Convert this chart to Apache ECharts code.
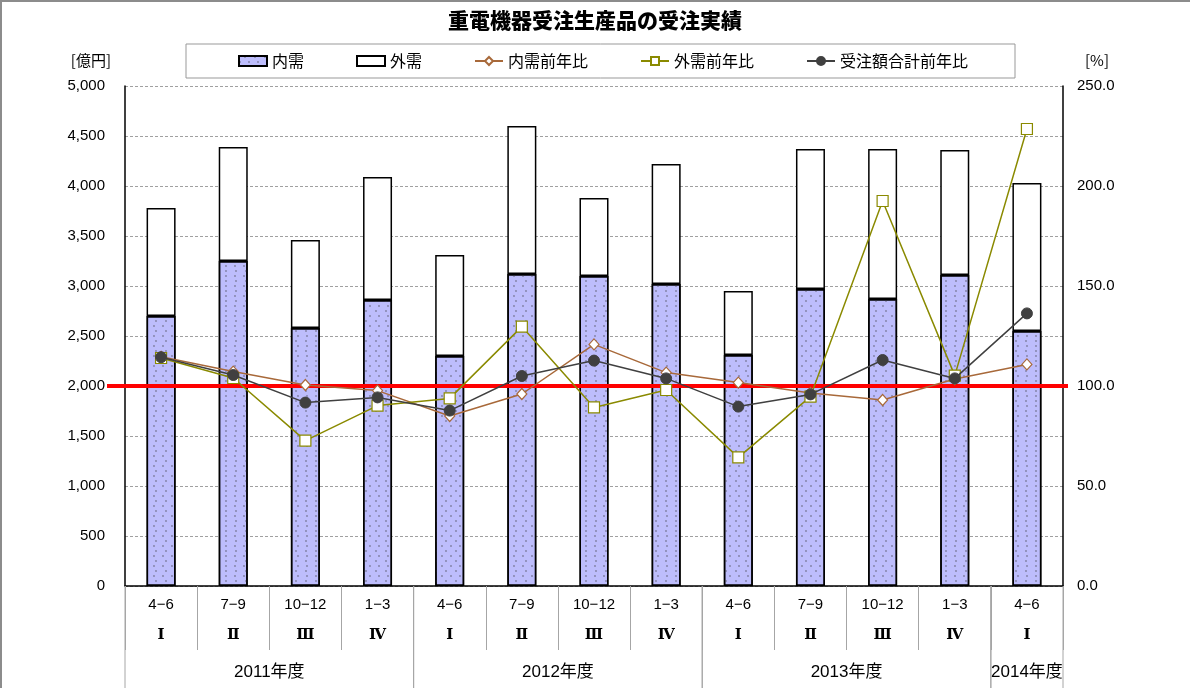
<!DOCTYPE html>
<html>
<head>
<meta charset="utf-8">
<title>重電機器受注生産品の受注実績</title>
<script src="https://cdn.jsdelivr.net/npm/echarts@6/dist/echarts.min.js"></script>
<style>
  html, body { margin: 0; padding: 0; background: #fff; }
  #chart { width: 1190px; height: 688px; }
</style>
</head>
<body>
<div id="chart"></div>
<script>
// Quarter labels, fiscal-quarter numerals and fiscal-year groups
const quarters = ['4−6', '7−9', '10−12', '1−3', '4−6', '7−9', '10−12', '1−3', '4−6', '7−9', '10−12', '1−3', '4−6'];
const romans = ['Ⅰ', 'Ⅱ', 'Ⅲ', 'Ⅳ', 'Ⅰ', 'Ⅱ', 'Ⅲ', 'Ⅳ', 'Ⅰ', 'Ⅱ', 'Ⅲ', 'Ⅳ', 'Ⅰ'];
const fiscalYears = ['2011年度', '2012年度', '2013年度', '2014年度'];
const fiscalYearStart = [0, 4, 8, 12];
const fiscalYearLength = [4, 4, 4, 1];

// Orders received [億円]
const domestic = [2700, 3250, 2580, 2860, 2300, 3120, 3100, 3020, 2310, 2970, 2870, 3110, 2550];
const overseas = [1080, 1140, 880, 1230, 1010, 1480, 780, 1200, 640, 1400, 1500, 1250, 1480];

// Year-on-year ratios [%]
const domesticYoY = [114.6, 107.2, 100.5, 97.7, 85.0, 96.0, 120.8, 106.7, 101.7, 96.5, 93.0, 103.5, 110.8];
const overseasYoY = [114.0, 104.0, 72.7, 90.2, 93.8, 129.7, 89.3, 98.0, 64.3, 94.7, 192.5, 105.2, 228.5];
const totalYoY = [114.4, 105.5, 91.7, 94.3, 87.7, 105.0, 112.7, 103.8, 89.7, 95.8, 113.0, 103.8, 136.3];

// Reference level for the ratio axis
const baseline = 100;

const FONT = '"Liberation Sans", "Noto Sans CJK JP", sans-serif';
const SEP_COLOR = '#a6a6a6';

const chart = echarts.init(document.getElementById('chart'), null, { renderer: 'canvas' });

const option = {
  backgroundColor: '#fff',
  animation: false,
  textStyle: { fontFamily: FONT, color: '#000' },
  title: {
    text: '重電機器受注生産品の受注実績',
    left: 'center',
    top: 10,
    padding: 0,
    textStyle: { fontFamily: '"Noto Sans CJK JP", sans-serif', fontSize: 21, fontWeight: 900, color: '#000' }
  },
  graphic: [{
    type: 'rect',
    shape: { x: 1, y: 1, width: 1200, height: 700 },
    style: { fill: 'none', stroke: '#8c8c8c', lineWidth: 2 },
    silent: true
  }],
  legend: {
    left: 186,
    top: 44,
    padding: [9, 47, 9, 52],
    itemGap: 52,
    itemWidth: 28,
    itemHeight: 10,
    borderColor: '#999',
    borderWidth: 1,
    textStyle: { fontFamily: '"Noto Sans CJK JP", sans-serif', fontSize: 16, color: '#000' },
    data: [
      { name: '内需', icon: 'rect' },
      { name: '外需', icon: 'rect' },
      '内需前年比', '外需前年比', '受注額合計前年比'
    ]
  },
  grid: { left: 125, right: 127, top: 86, bottom: 102 },
  xAxis: {
    type: 'category',
    data: quarters,
    boundaryGap: true,
    axisLine: { lineStyle: { color: '#000', width: 1.5 } },
    axisTick: { show: true, interval: 0, length: 64, lineStyle: { color: SEP_COLOR, width: 1 } },
    axisLabel: {
      interval: 0,
      margin: 4,
      formatter: (value, idx) => '{q|' + value + '}\n{r|' + romans[idx] + '}',
      rich: {
        q: { fontFamily: FONT, fontSize: 15, lineHeight: 30, color: '#000' },
        r: { fontFamily: '"DejaVu Serif", "Noto Sans CJK JP", serif', fontSize: 15, fontWeight: 'bold', lineHeight: 30, color: '#000' }
      }
    }
  },
  yAxis: [{
    type: 'value',
    min: 0,
    max: 5000,
    interval: 500,
    name: '[億円]',
    nameLocation: 'end',
    nameGap: 18,
    nameTextStyle: { fontFamily: '"Noto Sans CJK JP", sans-serif', fontSize: 15, color: '#000', align: 'right', padding: [0, 14, 0, 0] },
    axisLine: { show: true, lineStyle: { color: '#000', width: 1.5 } },
    axisTick: { show: false },
    axisLabel: { fontSize: 15, color: '#000', margin: 20, formatter: v => v.toLocaleString('en-US') },
    splitLine: { show: true, lineStyle: { color: '#a0a0a0', type: [3, 2], width: 1 } }
  }, {
    type: 'value',
    min: 0,
    max: 250,
    interval: 50,
    name: '[%]',
    nameLocation: 'end',
    nameGap: 18,
    nameTextStyle: { fontFamily: '"Noto Sans CJK JP", sans-serif', fontSize: 15, color: '#000', align: 'left', padding: [0, 0, 0, 22] },
    axisLine: { show: true, lineStyle: { color: '#000', width: 1.5 } },
    axisTick: { show: false },
    axisLabel: { fontSize: 15, color: '#000', margin: 14, formatter: v => v.toFixed(1) },
    splitLine: { show: false }
  }],
  series: [
    {
      name: '内需',
      type: 'bar',
      stack: 'orders',
      barWidth: 29,
      data: domestic,
      itemStyle: {
        color: '#bdbdfc',
        borderColor: '#000',
        borderWidth: 1.5,
        decal: {
          symbol: 'circle',
          symbolSize: 0.9,
          color: 'rgba(105,105,130,0.75)',
          dashArrayX: [[2, 7], [0, 4.5, 2, 2.5]],
          dashArrayY: [2, 2.5]
        }
      },
      z: 2
    },
    {
      name: '外需',
      type: 'bar',
      stack: 'orders',
      barWidth: 29,
      data: overseas,
      itemStyle: { color: '#fff', borderColor: '#000', borderWidth: 1.5 },
      z: 2
    },
    {
      // 100% reference line across the plot
      name: 'baseline',
      type: 'custom',
      yAxisIndex: 1,
      data: [[0, baseline]],
      silent: true,
      z: 3,
      renderItem: (params, api) => {
        const cs = params.coordSys;
        const y = api.coord([0, api.value(1)])[1];
        return {
          type: 'line',
          shape: { x1: cs.x - 18, y1: y, x2: cs.x + cs.width + 5, y2: y },
          style: { stroke: '#ff0000', lineWidth: 4 }
        };
      }
    },
    {
      // Fiscal-year row under the quarter labels
      name: 'fiscalYear',
      type: 'custom',
      data: fiscalYearStart.map((s, i) => [s, fiscalYearLength[i]]),
      silent: true,
      clip: false,
      z: 3,
      renderItem: (params, api) => {
        const cs = params.coordSys;
        const band = api.size([1, 0])[0];
        const start = api.value(0);
        const len = api.value(1);
        const x0 = api.coord([start, 0])[0] - band / 2;
        const x1 = x0 + band * len;
        const yb = cs.y + cs.height;
        return {
          type: 'group',
          children: [
            { type: 'line', shape: { x1: x0, y1: yb, x2: x0, y2: yb + 110 }, style: { stroke: SEP_COLOR, lineWidth: 1 } },
            { type: 'line', shape: { x1: x1, y1: yb, x2: x1, y2: yb + 110 }, style: { stroke: SEP_COLOR, lineWidth: 1 } },
            {
              type: 'text',
              style: {
                x: (x0 + x1) / 2,
                y: yb + 86,
                text: fiscalYears[params.dataIndex],
                fill: '#000',
                font: '17px ' + FONT,
                textAlign: 'center',
                textVerticalAlign: 'middle'
              }
            }
          ]
        };
      }
    },
    {
      name: '内需前年比',
      type: 'line',
      yAxisIndex: 1,
      data: domesticYoY,
      symbol: 'diamond',
      symbolSize: [10, 11],
      lineStyle: { color: '#a8693a', width: 1.5 },
      itemStyle: { color: '#fff', borderColor: '#a8693a', borderWidth: 1.2 },
      z: 5
    },
    {
      name: '外需前年比',
      type: 'line',
      yAxisIndex: 1,
      data: overseasYoY,
      symbol: 'rect',
      symbolSize: 11,
      lineStyle: { color: '#8a8a00', width: 1.5 },
      itemStyle: { color: '#fff', borderColor: '#8a8a00', borderWidth: 1.2 },
      z: 5
    },
    {
      name: '受注額合計前年比',
      type: 'line',
      yAxisIndex: 1,
      data: totalYoY,
      symbol: 'circle',
      symbolSize: 11,
      lineStyle: { color: '#404040', width: 1.5 },
      itemStyle: { color: '#404040', borderColor: '#404040', borderWidth: 1 },
      z: 6
    }
  ]
};

chart.setOption(option);
</script>
</body>
</html>
